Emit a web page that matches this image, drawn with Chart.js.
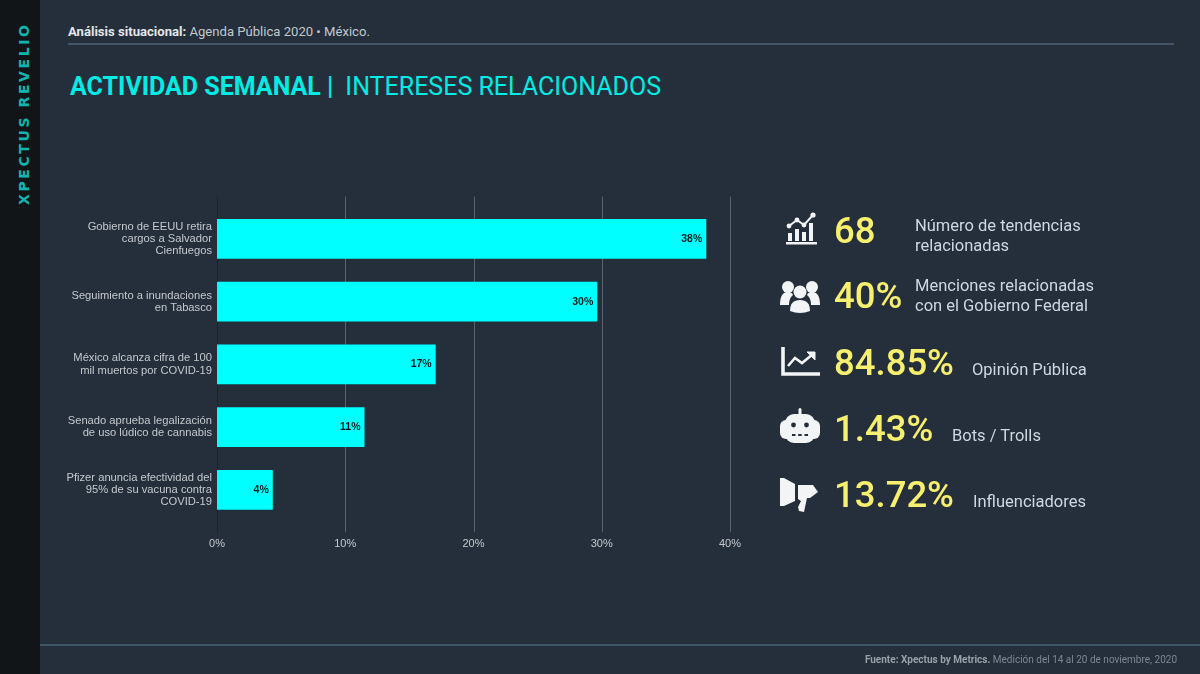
<!DOCTYPE html>
<html>
<head>
<meta charset="utf-8">
<script src="https://cdn.jsdelivr.net/npm/chart.js@4"></script>
<style>
  html, body { margin: 0; padding: 0; background: #242f3b; }
  #page { position: relative; width: 1200px; height: 674px; overflow: hidden; font-family: Roboto, sans-serif; background: #242f3b; filter: blur(0.4px); }
  #page div, #page svg { position: absolute; white-space: nowrap; }
  canvas { position: absolute; left: 0; top: 0; }
  #side { left: 0; top: 0; width: 40px; height: 674px; background: #111517; }
  #brand { left: 16px; top: 205px; transform-origin: 0 0; transform: rotate(-90deg); font: bold 14px "DejaVu Sans", sans-serif; letter-spacing: 2.6px; color: #10b5b2; line-height: 16px; }
  #head { left: 68px; top: 24px; font-size: 13.1px; line-height: 15px; color: #c3c8cd; }
  #head b { color: #e4e6e8; }
  #rule1 { left: 68px; top: 43px; width: 1106px; height: 2px; background: #46556a; }
  #rule2 { left: 40px; top: 644px; width: 1160px; height: 1.5px; background: #3f5666; }
  #title { left: 70px; top: 72px; font-size: 25px; line-height: 30px; color: #00ece4; }
  #title span { margin-left: 12px; }
  #source { right: 23px; top: 654px; font-size: 10px; line-height: 12px; color: #7d8791; }
  #source b { color: #98a1aa; }
  .num { left: 834px; color: #f7f06e; font-size: 36.5px; font-weight: 500; line-height: 40px; }
  .txt { color: #cfd8e2; font-size: 16.5px; line-height: 20px; }
</style>
</head>
<body>
<div id="page">
  <div id="side"></div>
  <div id="brand">XPECTUS REVELIO</div>
  <div id="head"><b>Análisis situacional:</b> Agenda Pública 2020 • México.</div>
  <div id="rule1"></div>
  <div id="title"><b>ACTIVIDAD SEMANAL |</b><span>INTERESES RELACIONADOS</span></div>
  <canvas id="chart" width="1200" height="674"></canvas>

  <!-- icons -->
  <svg style="left:785px;top:212px" width="32" height="34" viewBox="0 0 32 34" fill="#f2f4f6">
    <rect x="1" y="30" width="31" height="2.5"/><rect x="3" y="21" width="4" height="8"/><rect x="10" y="17" width="4" height="12"/><rect x="17" y="20" width="4" height="9"/><rect x="24" y="11" width="4" height="18"/>
    <path d="M4 14 L12 8 L19 13 L28 3" fill="none" stroke="#f2f4f6" stroke-width="2"/><circle cx="4" cy="14" r="2.4"/><circle cx="12" cy="8" r="2.4"/><circle cx="19" cy="13" r="2.4"/><circle cx="28" cy="3" r="2.6"/>
  </svg>
  <svg style="left:780px;top:280px" width="40" height="34" viewBox="0 0 40 34" fill="#f2f4f6">
    <circle cx="8" cy="7" r="6"/><circle cx="32" cy="7" r="6"/><path d="M0 25 Q0 12 8 12 Q12 12 13 15 Q9 18 9 25 Z"/><path d="M40 25 Q40 12 32 12 Q28 12 27 15 Q31 18 31 25 Z"/>
    <circle cx="20" cy="12" r="6.5"/><path d="M10 31 Q10 20 20 20 Q30 20 30 31 Q20 35 10 31 Z"/>
  </svg>
  <svg style="left:781px;top:347px" width="39" height="30" viewBox="0 0 39 30" fill="none" stroke="#f2f4f6">
    <path d="M2 0 V27 H39" stroke-width="3.6"/><path d="M7 19 L14 11 L21 16 L32 7" stroke-width="2.6"/><path d="M26 5 H34 V13 Z" fill="#f2f4f6" stroke-width="1"/>
  </svg>
  <svg style="left:780px;top:408px" width="40" height="36" viewBox="0 0 40 36" fill="#f2f4f6">
    <rect x="18.5" y="0" width="3" height="8" rx="1.5"/>
    <rect x="5" y="6" width="30" height="29" rx="9"/><rect x="0" y="12" width="40" height="19" rx="6"/>
    <circle cx="13.5" cy="17" r="2.4" fill="#242f3b"/><circle cx="26.5" cy="17" r="2.4" fill="#242f3b"/>
    <rect x="12" y="26" width="3.5" height="2" fill="#242f3b"/><rect x="18.2" y="26" width="3.5" height="2" fill="#242f3b"/><rect x="24.5" y="26" width="3.5" height="2" fill="#242f3b"/>
  </svg>
  <svg style="left:780px;top:477px" width="39" height="37" viewBox="0 0 39 37" fill="#f2f4f6">
    <path d="M0 1 L4 1 L15 7 V24 L4 29 H0 Z"/><path d="M18 8 H33 L38 15 L30 21 H27 L24 35 L19 34 L18 30 L21 24 L18 22 Z"/>
  </svg>

  <div class="num" style="top:211px">68</div>
  <div class="txt" style="left:915px;top:216px">Número de tendencias<br>relacionadas</div>
  <div class="num" style="top:276px">40%</div>
  <div class="txt" style="left:915px;top:276px">Menciones relacionadas<br>con el Gobierno Federal</div>
  <div class="num" style="top:343px">84.85%</div>
  <div class="txt" style="left:972px;top:360px">Opinión Pública</div>
  <div class="num" style="top:409px">1.43%</div>
  <div class="txt" style="left:952px;top:426px">Bots / Trolls</div>
  <div class="num" style="top:475px">13.72%</div>
  <div class="txt" style="left:973px;top:492px">Influenciadores</div>

  <div id="rule2"></div>
  <div id="source"><b>Fuente: Xpectus by Metrics.</b> Medición del 14 al 20 de noviembre, 2020</div>
</div>

<script>
var categories = [
  ['Gobierno de EEUU retira', 'cargos a Salvador', 'Cienfuegos'],
  ['Seguimiento a inundaciones', 'en Tabasco'],
  ['México alcanza cifra de 100', 'mil muertos por COVID-19'],
  ['Senado aprueba legalización', 'de uso lúdico de cannabis'],
  ['Pfizer anuncia efectividad del', '95% de su vacuna contra', 'COVID-19']
];
var values = [38.15, 29.65, 17.05, 11.5, 4.35];
var valueLabels = ['38%', '30%', '17%', '11%', '4%'];
var tickValues = [0, 10, 20, 30, 40];

// the gridlines run past the category band, top and bottom
var longGrid = {
  id: 'longGrid',
  beforeDatasetsDraw: function (chart) {
    var ctx = chart.ctx;
    var area = chart.chartArea;
    var x = chart.scales.x;
    ctx.save();
    ctx.lineWidth = 1;
    tickValues.forEach(function (v) {
      var px = Math.round(x.getPixelForValue(v)) + 0.5;
      ctx.strokeStyle = v === 0 ? '#1b222b' : '#5a626c';
      ctx.beginPath();
      ctx.moveTo(px, area.top - 11);
      ctx.lineTo(px, area.bottom + 11);
      ctx.stroke();
    });
    ctx.restore();
  }
};

var barLabels = {
  id: 'barLabels',
  afterDatasetsDraw: function (chart) {
    var ctx = chart.ctx;
    ctx.save();
    ctx.font = 'bold 10.5px "Liberation Sans"';
    ctx.fillStyle = '#0a1a20';
    ctx.textAlign = 'right';
    ctx.textBaseline = 'middle';
    chart.getDatasetMeta(0).data.forEach(function (bar, i) {
      ctx.fillText(valueLabels[i], bar.x - 4, bar.y);
    });
    ctx.restore();
  }
};

new Chart(document.getElementById('chart'), {
  type: 'bar',
  data: {
    labels: categories,
    datasets: [{
      data: values,
      backgroundColor: '#00ffff',
      borderWidth: 0,
      barPercentage: 1,
      categoryPercentage: 0.637
    }]
  },
  plugins: [longGrid, barLabels],
  options: {
    indexAxis: 'y',
    responsive: false,
    animation: false,
    layout: { padding: { left: 67, top: 207.5, right: 470, bottom: 112.75 } },
    plugins: { legend: { display: false }, tooltip: { enabled: false } },
    scales: {
      x: {
        min: 0,
        max: 40,
        afterBuildTicks: function (scale) {
          scale.ticks = tickValues.map(function (v) { return { value: v }; });
        },
        afterFit: function (scale) {
          scale.height = 40;
          scale.paddingLeft = 0;
          scale.paddingRight = 0;
        },
        grid: { display: false, drawTicks: false, tickLength: 0 },
        border: { display: false },
        ticks: {
          padding: 16,
          maxRotation: 0,
          color: '#c4c9ce',
          font: { family: '"Liberation Sans"', size: 11 },
          callback: function (v) { return v + '%'; }
        }
      },
      y: {
        afterFit: function (scale) { scale.width = 150; },
        grid: { display: false, drawTicks: false, tickLength: 0 },
        border: { display: false },
        ticks: {
          padding: 5,
          color: '#c4c9ce',
          font: { family: '"Liberation Sans"', size: 11.2, lineHeight: 1.08 }
        }
      }
    }
  }
});
</script>
</body>
</html>
